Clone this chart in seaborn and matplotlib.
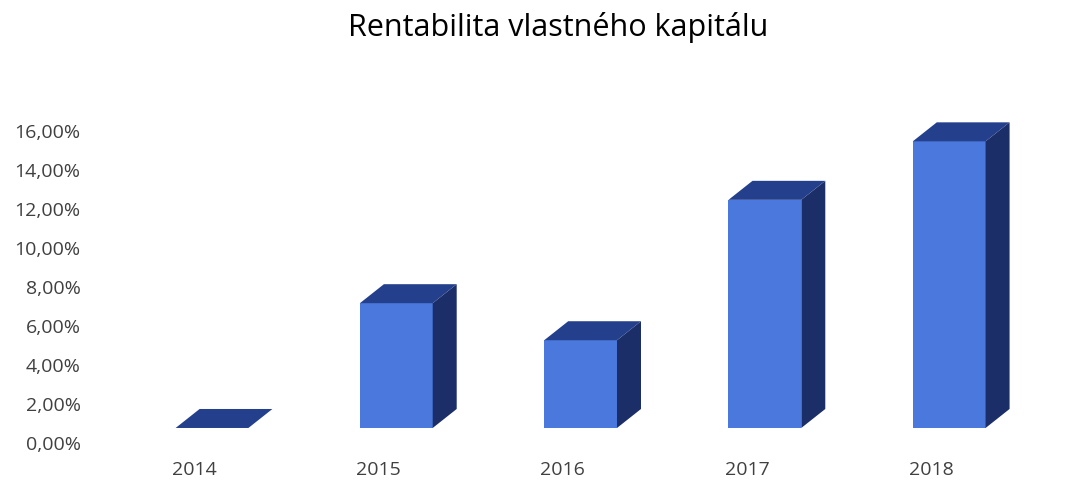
import numpy as np
import pandas as pd
import matplotlib
matplotlib.use("Agg")
import matplotlib.pyplot as plt
import matplotlib.transforms as mtransforms
from matplotlib.patches import Polygon
import seaborn as sns

# ---- data ----
years = ["2014", "2015", "2016", "2017", "2018"]
roe_pct = [0.0, 6.4, 4.5, 11.7, 14.7]
ytick_vals = [0, 2, 4, 6, 8, 10, 12, 14, 16]
ytick_labels = ["0,00%", "2,00%", "4,00%", "6,00%", "8,00%", "10,00%", "12,00%", "14,00%", "16,00%"]
title = "Rentabilita vlastného kapitálu"

FRONT = "#4a78dc"
TOP = "#24408c"
SIDE = "#1b2e68"

sns.set_theme(style="white")
plt.rcParams["font.family"] = ["Open Sans", "DejaVu Sans"]

DPI = 100
fig = plt.figure(figsize=(10.71, 4.82), dpi=DPI)
fig.patch.set_facecolor("white")
ax = fig.add_axes([0.0779, 0.0405, 0.8948, 0.7282])
ax.set_facecolor("none")

df = pd.DataFrame({"year": years, "roe": roe_pct})
sns.barplot(data=df, x="year", y="roe", ax=ax, width=0.395, color=FRONT,
            saturation=1, edgecolor="none", linewidth=0, zorder=2)

ax.set_xlim(-0.6, 4.6)
ax.set_ylim(-1, 17)
ax.set_yticks(ytick_vals)
ax.set_yticklabels(ytick_labels)
ax.set_xlabel("")
ax.set_ylabel("")
for s in ax.spines.values():
    s.set_visible(False)
ax.tick_params(axis="both", length=0, colors="#404040", labelsize=14)
ax.tick_params(axis="y", pad=2)
ax.tick_params(axis="x", pad=-1)
ax.grid(False)

# 3D offset: bars sit slightly deeper than the axis front (display pixels)
off_x, off_y = 18, 15
depth_x, depth_y = 24, 19
bar_tr = ax.transData + mtransforms.ScaledTranslation(off_x / DPI, off_y / DPI, fig.dpi_scale_trans)

for p in list(ax.patches):
    p.set_transform(bar_tr)
    x0, w, h = p.get_x(), p.get_width(), p.get_height()
    (L, B), (R, T) = bar_tr.transform([(x0, 0), (x0 + w, h)])
    top = [(L, T), (R, T), (R + depth_x, T + depth_y), (L + depth_x, T + depth_y)]
    side = [(R, B), (R + depth_x, B + depth_y), (R + depth_x, T + depth_y), (R, T)]
    ax.add_patch(Polygon(side, closed=True, facecolor=SIDE, edgecolor="none",
                         transform=mtransforms.IdentityTransform(), zorder=3))
    ax.add_patch(Polygon(top, closed=True, facecolor=TOP, edgecolor="none",
                         transform=mtransforms.IdentityTransform(), zorder=3))

fig.text(0.5215, 0.942, title, ha="center", va="center", fontsize=22, color="#000000")

fig.savefig("out.png", dpi=DPI, facecolor="white")
